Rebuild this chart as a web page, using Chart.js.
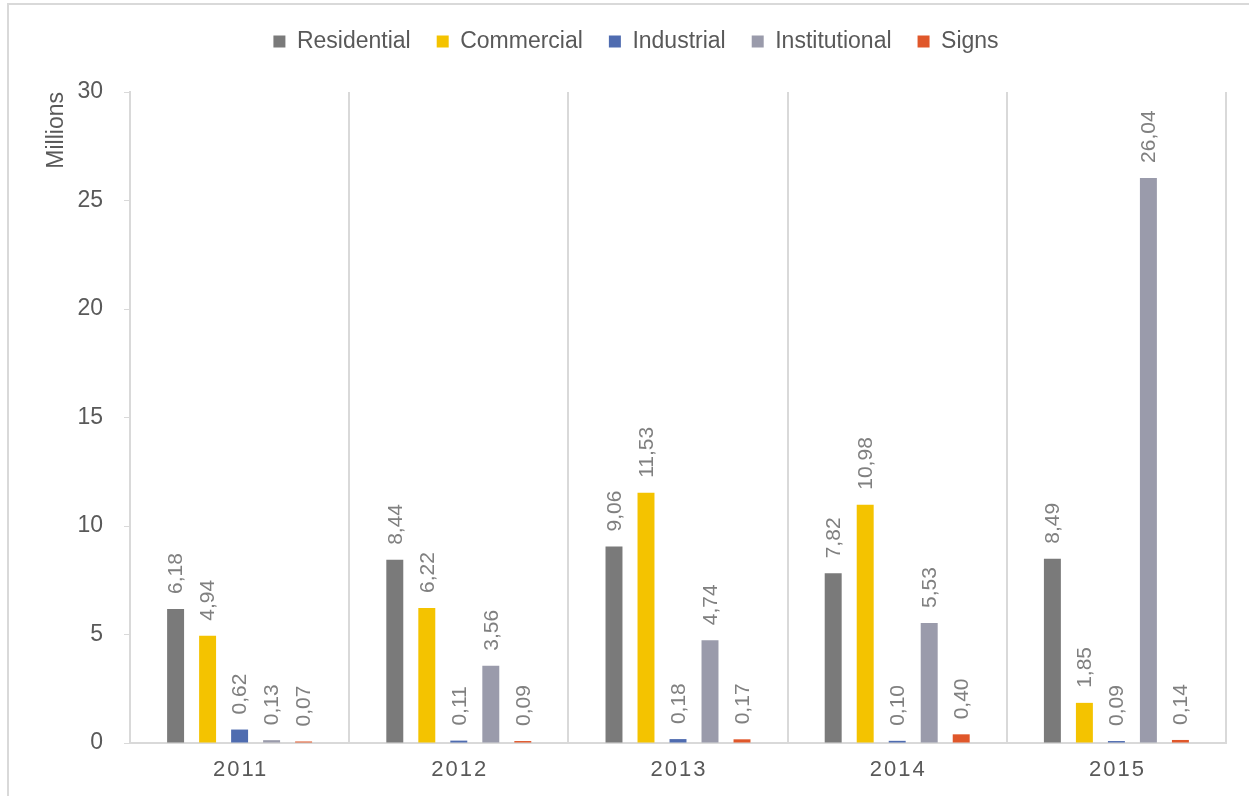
<!DOCTYPE html>
<html>
<head>
<meta charset="utf-8">
<script src="https://cdn.jsdelivr.net/npm/chart.js@4/dist/chart.umd.min.js"></script>
<style>
    html, body { margin: 0; padding: 0; background: #fff; }
    .wrap { position: relative; width: 1249px; height: 796px; }
    /* 차트 바깥 테두리 (위, 왼쪽만 보임) */
    .frame { position: absolute; left: 7px; top: 3px; right: -10px; bottom: -10px;
             border-left: 2px solid #d9d9d9; border-top: 2px solid #d9d9d9; pointer-events: none; }
    canvas { position: absolute; left: 0; top: 0; }
</style>
</head>
<body>
<div class="wrap">
    <canvas id="myChart" width="1249" height="796"></canvas>
    <div class="frame"></div>
</div>
<script>
const years = ['2011', '2012', '2013', '2014', '2015'];
const residential = [6.18, 8.44, 9.06, 7.82, 8.49];
const commercial = [4.94, 6.22, 11.53, 10.98, 1.85];
const industrial = [0.62, 0.11, 0.18, 0.10, 0.09];
const institutional = [0.13, 3.56, 4.74, 5.53, 26.04];
const signs = [0.07, 0.09, 0.17, 0.40, 0.14];
const yTicks = [0, 5, 10, 15, 20, 25, 30];

const FONT = "'Liberation Sans', Arial, sans-serif";
const TEXT = '#595959';

// 막대 위에 세로로 값 표시 (소수점은 콤마)
const barValues = {
    id: 'barValues',
    afterDatasetsDraw(chart) {
        const ctx = chart.ctx;
        ctx.save();
        ctx.font = '21px ' + FONT;
        ctx.fillStyle = '#808080';
        ctx.textAlign = 'left';
        ctx.textBaseline = 'middle';
        chart.data.datasets.forEach((ds, i) => {
            chart.getDatasetMeta(i).data.forEach((bar, j) => {
                const txt = ds.data[j].toFixed(2).replace('.', ',');
                ctx.save();
                ctx.translate(bar.x + 1, bar.y - 15);
                ctx.rotate(-Math.PI / 2);
                ctx.fillText(txt, 0, 0);
                ctx.restore();
            });
        });
        ctx.restore();
    }
};

// x축 연도 라벨 (자간 조금 넓게)
const yearLabels = {
    id: 'yearLabels',
    afterDraw(chart) {
        const ctx = chart.ctx;
        const x = chart.scales.x;
        ctx.save();
        ctx.font = '22px ' + FONT;
        ctx.fillStyle = TEXT;
        ctx.textAlign = 'center';
        ctx.textBaseline = 'middle';
        ctx.letterSpacing = '2px';
        years.forEach((y, i) => {
            ctx.fillText(y, x.getPixelForTick(i) + 1, 770);
        });
        ctx.restore();
    }
};

// 범례 높이 고정
const legendHeight = {
    id: 'legendHeight',
    beforeInit(chart) {
        const fit = chart.legend.fit;
        chart.legend.fit = function () {
            fit.bind(chart.legend)();
            this.height = 88;
        };
    }
};

const data = {
    labels: years,
    datasets: [
        { label: 'Residential', data: residential, backgroundColor: '#7a7a7a' },
        { label: 'Commercial', data: commercial, backgroundColor: '#f4c300' },
        { label: 'Industrial', data: industrial, backgroundColor: '#4f6cb0' },
        { label: 'Institutional', data: institutional, backgroundColor: '#9a9bab' },
        { label: 'Signs', data: signs, backgroundColor: '#e0572a' },
    ],
};

const config = {
    type: 'bar',
    data: data,
    options: {
        responsive: false,
        animation: false,
        categoryPercentage: 0.73,
        barPercentage: 0.53,
        layout: { padding: { left: 46, right: 23, top: 4, bottom: 0 } },
        plugins: {
            legend: {
                position: 'top',
                labels: {
                    color: TEXT,
                    boxWidth: 12,
                    boxHeight: 12,
                    padding: 26,
                    font: { family: FONT, size: 23 },
                },
            },
            tooltip: false,
        },
        scales: {
            y: {
                min: 0,
                max: 30,
                afterFit(scale) { scale.width = 84; },
                afterBuildTicks(scale) { scale.ticks = yTicks.map(v => ({ value: v })); },
                grid: {
                    drawOnChartArea: false,
                    drawTicks: true,
                    tickLength: 6,
                    color: '#d9d9d9',
                },
                border: { color: '#d9d9d9', width: 2 },
                ticks: {
                    color: TEXT,
                    padding: 21,
                    font: { family: FONT, size: 23 },
                },
                title: {
                    display: true,
                    text: 'Millions',
                    align: 'end',
                    color: TEXT,
                    padding: { top: -3, bottom: 0 },
                    font: { family: FONT, size: 23 },
                },
            },
            x: {
                afterFit(scale) { scale.height = 53; },
                grid: {
                    offset: true,
                    drawTicks: false,
                    color: '#d9d9d9',
                    lineWidth: 2,
                },
                border: { color: '#d9d9d9', width: 2 },
                ticks: { display: false },
            },
        },
    },
    plugins: [barValues, yearLabels, legendHeight],
};

const myChart = new Chart(document.getElementById('myChart'), config);
</script>
</body>
</html>
